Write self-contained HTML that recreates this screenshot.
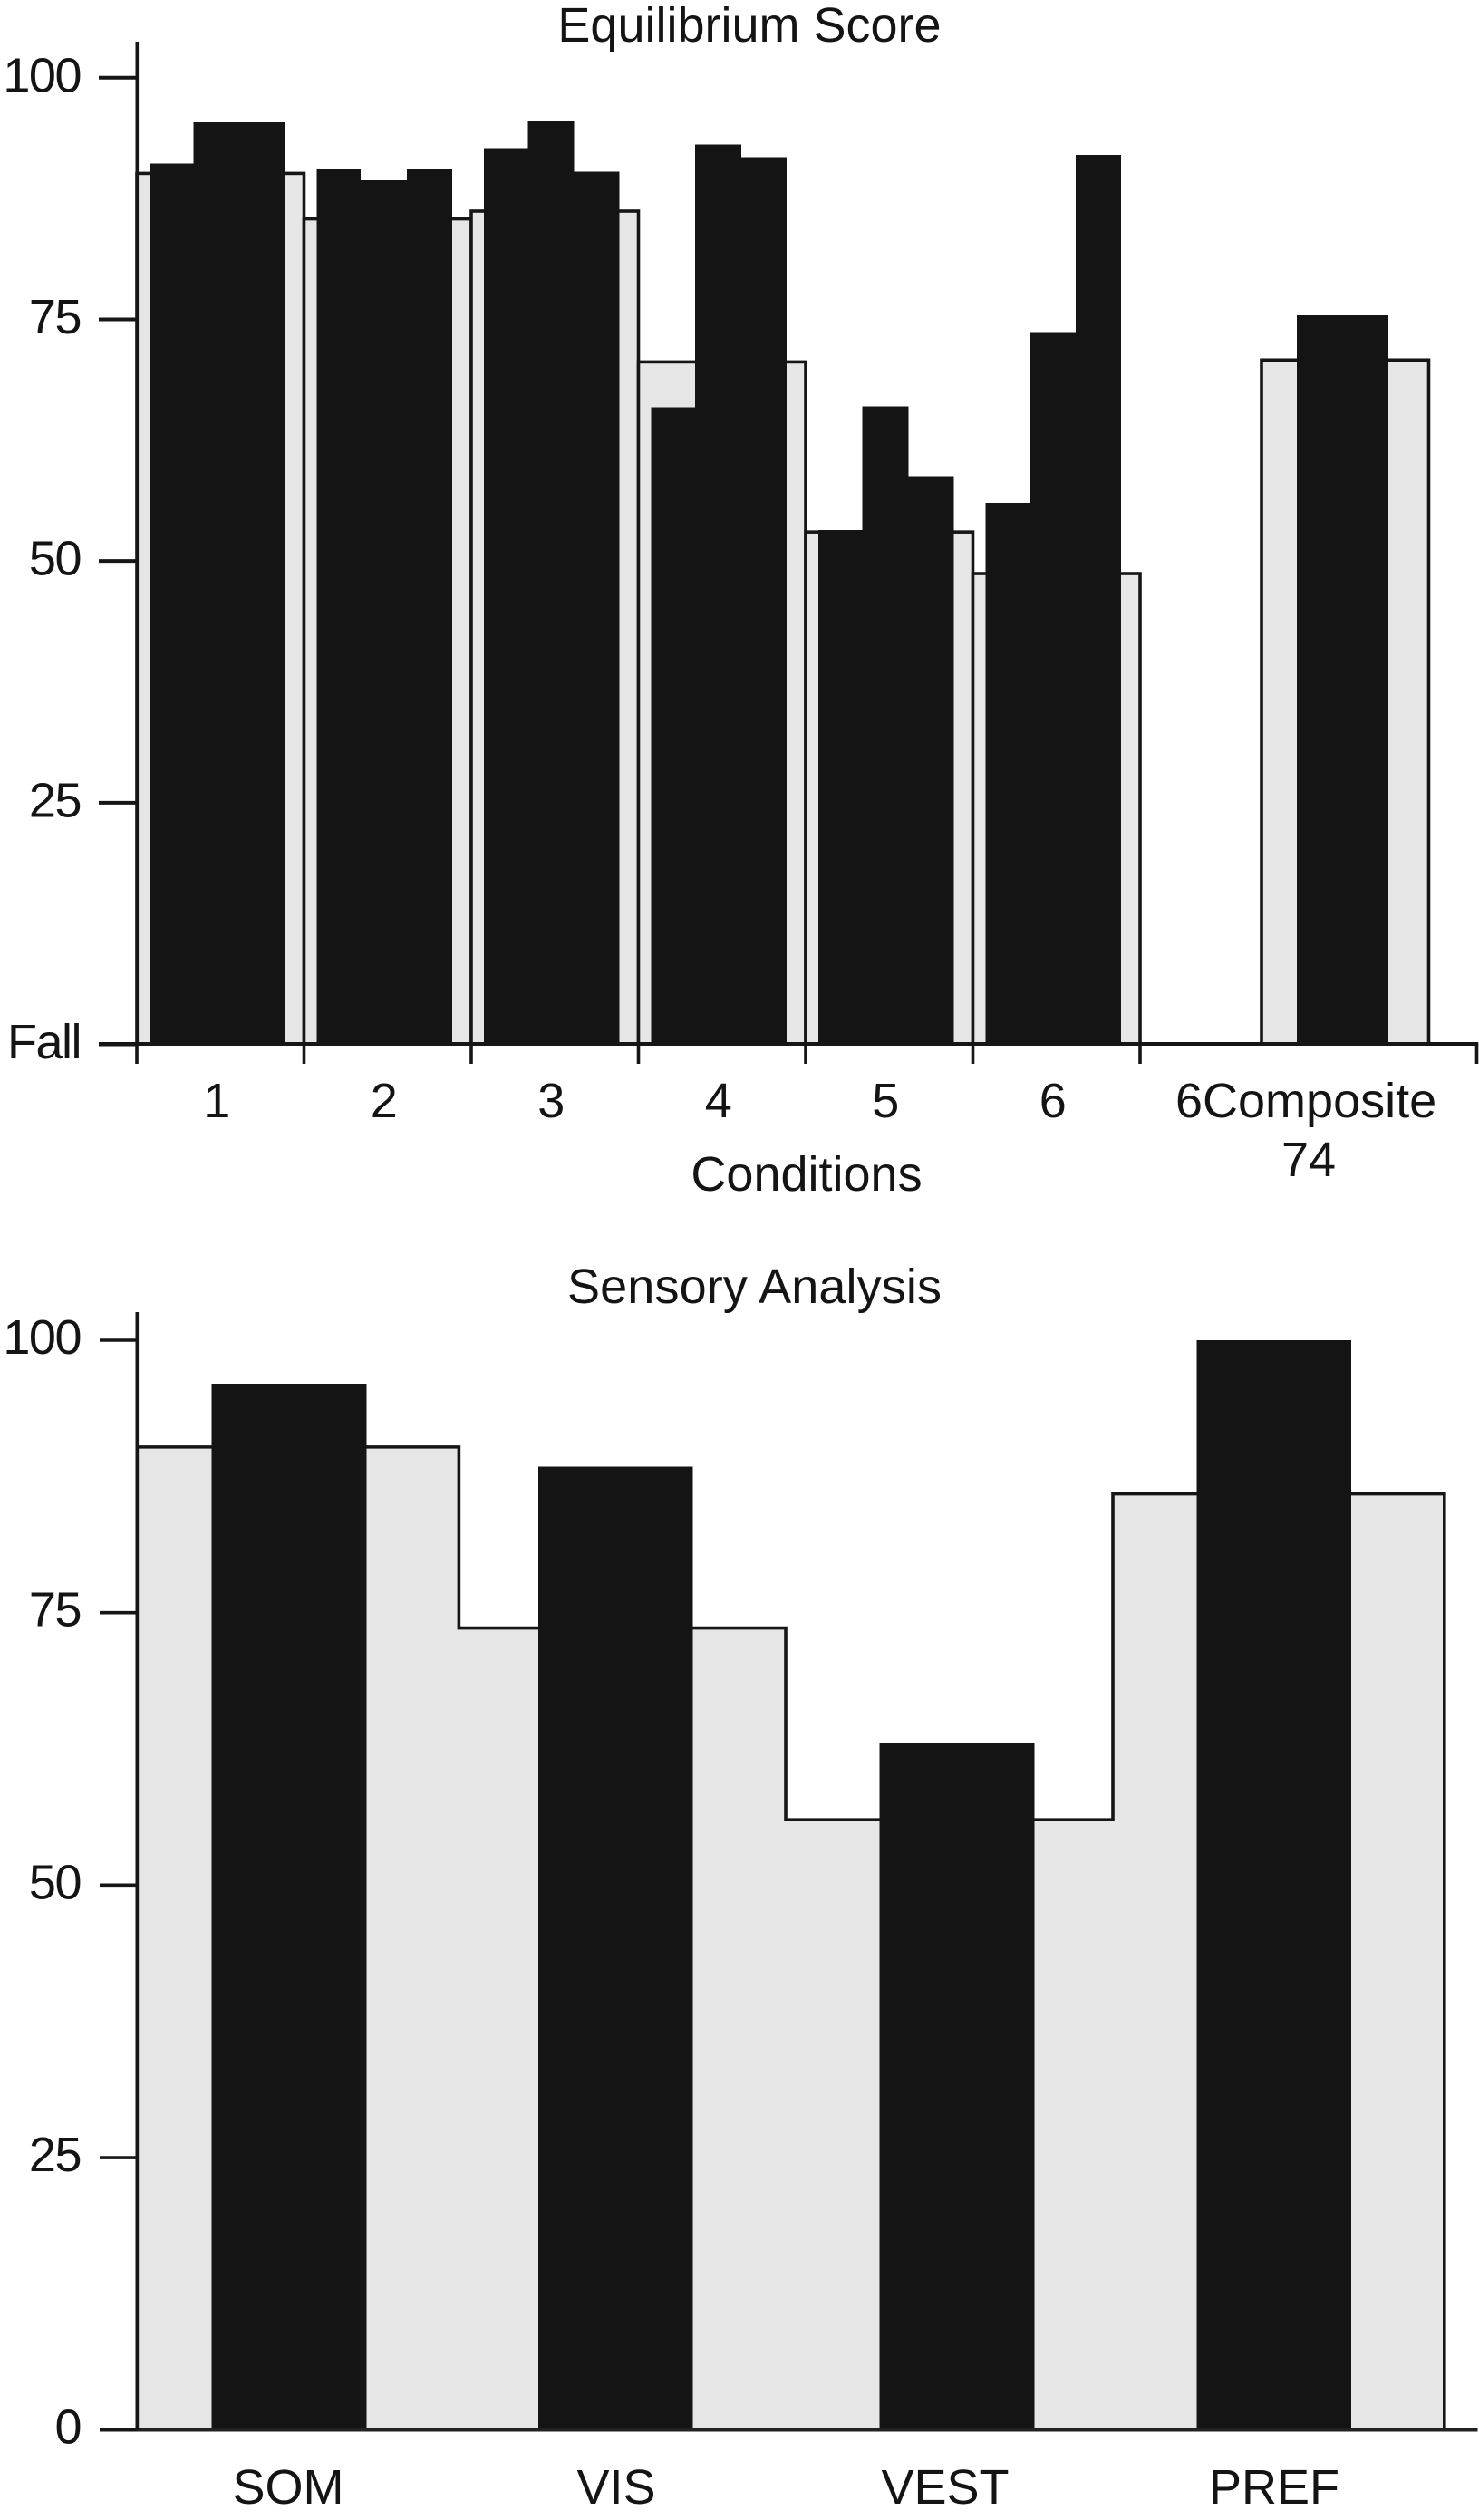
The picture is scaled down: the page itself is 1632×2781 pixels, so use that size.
<!DOCTYPE html>
<html lang="en">
<head>
<meta charset="utf-8">
<title>Equilibrium Score and Sensory Analysis</title>
<style>
  html, body { margin: 0; padding: 0; background: #fff; }
  svg { display: block; }
  text { font-family: "Liberation Sans", Arial, sans-serif; font-size: 54px; fill: #141414; }
  .tick-label { letter-spacing: -1.5px; }
</style>
</head>
<body>
<svg id="figure" xmlns="http://www.w3.org/2000/svg" width="1632" height="2781" viewBox="0 0 1632 2781">
  <rect x="0" y="0" width="1632" height="2781" fill="#ffffff"/>
  <g id="eq-chart">
    <text x="827" y="46" text-anchor="middle">Equilibrium Score</text>
    <text x="890" y="1314" text-anchor="middle">Conditions</text>
    <text x="1297" y="1233">6Composite</text>
    <text x="1444" y="1298" text-anchor="middle">74</text>
  </g>
  <g id="sa-chart">
    <text x="832.5" y="1438" text-anchor="middle" textLength="413" lengthAdjust="spacing">Sensory Analysis</text>
  </g>
</svg>
<script>
// Equilibrium Score data
const eqTickValues = [100, 75, 50, 25, 0];
const eqTickLabels = ['100', '75', '50', '25', 'Fall'];
const conditionLabels = ['1', '2', '3', '4', '5', '6'];
const conditionNorms = [90.1, 85.4, 86.2, 70.6, 53.0, 48.7];
const trial1Scores = [91.1, 90.5, 92.7, 65.9, 53.2, 56.0];
const trial2Scores = [95.4, 89.4, 95.5, 93.1, 66.0, 73.7];
const trial3Scores = [95.4, 90.5, 90.3, 91.8, 58.8, 92.0];
const compositeNorm = [70.8];
const compositeScore = [75.4];

// Sensory Analysis data
const saTickValues = [100, 75, 50, 25, 0];
const saTickLabels = ['100', '75', '50', '25', '0'];
const saCategories = ['SOM', 'VIS', 'VEST', 'PREF'];
const saNorms = [90.2, 73.6, 56.0, 85.9];
const saScores = [96.0, 88.4, 63.0, 100.0];

const NS = 'http://www.w3.org/2000/svg';
const INK = '#161616';
const BLACK = '#141414';
const GRAY = '#e6e6e6';

function node(parent, tag, attrs, txt) {
  const el = document.createElementNS(NS, tag);
  for (const k in attrs) el.setAttribute(k, attrs[k]);
  if (txt !== undefined) el.textContent = txt;
  parent.appendChild(el);
  return el;
}

function drawEquilibrium() {
  const g = document.getElementById('eq-chart');
  const yScale = v => 1152.5 - v * 10.667;
  const bandLeft = i => 151 + i * 184.5;
  const bandW = 184.5;
  const compLeft = 1392;
  const axisLeft = 109, axisX = 151.3, axisEnd = 1629.5, axisY = 1152, baseY = 1154;
  const trialEdges = [14, 62.7, 113.5, 163.5];

  conditionNorms.forEach((v, i) => {
    const r = node(g, 'rect', { x: bandLeft(i), y: yScale(v), width: bandW, height: axisY - yScale(v), fill: GRAY, stroke: INK, 'stroke-width': 3.6 });
    
    
  });
  const cn = node(g, 'rect', { x: compLeft, y: yScale(compositeNorm[0]), width: bandW, height: axisY - yScale(compositeNorm[0]), fill: GRAY, stroke: INK, 'stroke-width': 3.6 });
  
  

  [trial1Scores, trial2Scores, trial3Scores].forEach((series, t) => {
    series.forEach((v, i) => {
      const x0 = bandLeft(i) + trialEdges[t];
      const x1 = bandLeft(i) + trialEdges[t + 1];
      const r = node(g, 'rect', { x: x0, y: yScale(v), width: x1 - x0, height: baseY - yScale(v), fill: BLACK, 'shape-rendering': 'crispEdges' });
      
      
    });
  });
  const cs = node(g, 'rect', { x: compLeft + 39, y: yScale(compositeScore[0]), width: 101, height: baseY - yScale(compositeScore[0]), fill: BLACK, 'shape-rendering': 'crispEdges' });
  
  

  const ya = node(g, 'line', { x1: axisX, y1: 46, x2: axisX, y2: axisY, stroke: INK, 'stroke-width': 3.6 });
  
  
  const xa = node(g, 'line', { x1: axisLeft, y1: axisY, x2: axisEnd + 1.8, y2: axisY, stroke: INK, 'stroke-width': 4 });
  
  

  eqTickValues.forEach((v, i) => {
    const t = node(g, 'line', { x1: axisLeft, y1: yScale(v), x2: axisX, y2: yScale(v), stroke: INK, 'stroke-width': 4 });
    
    
    const l = node(g, 'text', { x: 89, y: yScale(v) + 15.5, 'text-anchor': 'end', class: 'tick-label' }, eqTickLabels[i]);
    
    
  });

  for (let i = 0; i <= conditionLabels.length; i++) {
    const t = node(g, 'line', { x1: bandLeft(i), y1: axisY, x2: bandLeft(i), y2: 1174, stroke: INK, 'stroke-width': 3.6 });
    
    
  }
  const te = node(g, 'line', { x1: axisEnd, y1: axisY, x2: axisEnd, y2: 1174, stroke: INK, 'stroke-width': 3.6 });
  
  

  conditionLabels.forEach((c, i) => {
    const l = node(g, 'text', { x: bandLeft(i) + bandW / 2 - 4, y: 1233, 'text-anchor': 'middle' }, c);
    
    
  });
}

function drawSensory() {
  const g = document.getElementById('sa-chart');
  const yScale = v => 2681.7 - v * 12.027;
  const edgeLayout = [151.3, 506.4, 867, 1228, 1593.8];
  const blackLayout = [233.7, 593.8, 970.6, 1320.3];
  const blackW = 170.7;
  const labelCenters = [318, 680, 1043, 1406];
  const axisLeft = 110, axisX = 151.3, axisEnd = 1630.5, axisY = 2681.7, baseY = 2683.5;

  let fillD = 'M' + edgeLayout[0] + ' ' + axisY;
  let lineD = 'M' + edgeLayout[0] + ' ' + axisY;
  saNorms.forEach((v, i) => {
    const seg = 'L' + edgeLayout[i] + ' ' + yScale(v) + 'L' + edgeLayout[i + 1] + ' ' + yScale(v);
    fillD += seg;
    lineD += seg;
  });
  fillD += 'L' + edgeLayout[saNorms.length] + ' ' + axisY + 'Z';
  lineD += 'L' + edgeLayout[saNorms.length] + ' ' + axisY;
  const f = node(g, 'path', { d: fillD, fill: GRAY, stroke: 'none' });
  
  
  const o = node(g, 'path', { d: lineD, fill: 'none', stroke: INK, 'stroke-width': 3.6 });
  
  

  saScores.forEach((v, i) => {
    const r = node(g, 'rect', { x: blackLayout[i], y: yScale(v), width: blackW, height: baseY - yScale(v), fill: BLACK, 'shape-rendering': 'crispEdges' });
    
    
  });

  const xa = node(g, 'line', { x1: axisLeft, y1: axisY, x2: axisEnd, y2: axisY, stroke: '#222222', 'stroke-width': 3.6 });
  
  
  const ya = node(g, 'line', { x1: axisX, y1: 1448, x2: axisX, y2: axisY, stroke: INK, 'stroke-width': 3.6 });
  
  

  saTickValues.forEach((v, i) => {
    const t = node(g, 'line', { x1: axisLeft, y1: yScale(v), x2: axisX, y2: yScale(v), stroke: INK, 'stroke-width': 3.6 });
    
    
    const l = node(g, 'text', { x: 89, y: yScale(v) + 15, 'text-anchor': 'end', class: 'tick-label' }, saTickLabels[i]);
    
    
  });

  saCategories.forEach((c, i) => {
    const l = node(g, 'text', { x: labelCenters[i], y: 2763, 'text-anchor': 'middle' }, c);
    
    
  });
}

drawEquilibrium();
drawSensory();
</script>
</body>
</html>
